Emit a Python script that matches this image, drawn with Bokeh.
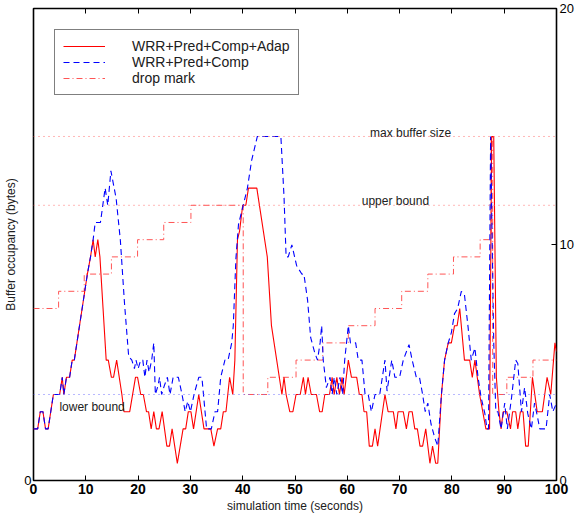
from bokeh.plotting import figure
from bokeh.models import (Range1d, LinearAxis, FixedTicker, Span, Legend, LegendItem,
                          ColumnDataSource, CustomLabelingPolicy)
from bokeh.core.properties import value
from bokeh.embed import file_html
from bokeh.resources import INLINE

FONT = "Liberation Sans"

# ---- data ----
adap_t = [0, 0.8, 1.3, 1.8, 2.3, 2.8, 3.8, 5.0, 5.5, 5.8, 6.3, 6.9, 7.4, 7.8, 8.3, 8.8, 9.3, 9.8,
          10.3, 10.9, 11.4, 11.8, 12.3, 12.7, 13.3, 13.9, 14.3, 14.9, 15.3, 15.9, 16.9, 17.3, 18.4,
          19.5, 19.9, 20.5, 21.0, 21.6, 22.0, 22.5, 23.0, 23.5, 24.0, 24.6, 25.5, 26.0, 26.5, 27.5,
          28.6, 29.1, 29.6, 30.1, 30.6, 31.6, 32.6, 33.9, 34.5, 35.2, 35.8, 36.3, 36.8, 37.5, 38.1,
          38.5, 39.0, 39.4, 40.0, 40.6, 41.1, 42.7, 44.7, 45.5, 47.5, 47.9, 48.3, 49.0, 49.6, 50.2,
          51.0, 51.6, 52.0, 52.5, 53.1, 54.1, 54.7, 55.2, 55.7, 56.6, 57.1, 57.5, 58.0, 58.5, 59.0,
          59.4, 60.2, 60.8, 61.8, 62.3, 62.8, 63.2, 63.7, 64.2, 64.8, 65.3, 65.8, 67.2, 67.8, 68.8,
          69.3, 69.7, 70.7, 71.3, 71.8, 72.4, 72.9, 73.4, 73.9, 74.4, 75.0, 75.8, 76.3, 76.9, 77.3,
          78.0, 78.6, 79.3, 79.9, 80.5, 81.0, 81.5, 82.4, 83.4, 83.9, 84.4, 85.3, 86.5, 87.2, 87.6,
          88.0, 88.5, 89.0, 89.4, 89.8, 90.5, 91.2, 91.6, 92.2, 92.6, 93.1, 93.6, 94.1, 94.6, 95.4,
          96.3, 97.3, 98.2, 98.9, 99.7, 100]
adap_v = [3, 3, 4, 4, 3, 3, 5, 5, 6, 5, 6, 6, 7, 7, 8, 9, 10, 11,
          12, 13, 14, 13, 14, 13, 10, 7, 7, 6, 6, 7, 5, 4, 4,
          6, 6, 5, 5, 4, 4, 3, 4, 3, 3, 4, 2, 2, 3, 1,
          3, 3, 4, 4, 3, 5, 3, 3, 2, 3, 3, 4, 4, 6, 5,
          7, 14, 14.5, 16, 16, 17, 17, 13, 9, 5, 6, 5, 4, 4, 5,
          5, 6, 5, 6, 5, 5, 4, 4, 5, 5, 6, 5, 6, 5, 6,
          5, 7, 6, 6, 5, 5, 4, 4, 2, 2, 3, 2, 5, 4, 4,
          3, 4, 4, 3, 4, 4, 3, 3, 2, 2, 3, 1, 2, 1, 1,
          5, 7, 8, 8, 9, 9, 10, 7, 7, 6, 7, 5, 3, 3, 20,
          20, 6, 4, 3, 4, 4, 3, 4, 4, 3, 4, 4, 2, 2, 6,
          4, 4, 6, 5, 8, 7.5]

comp_t = [0, 0.8, 1.3, 1.8, 2.3, 2.8, 3.8, 5.0, 5.5, 5.8, 6.3, 6.9, 7.4, 7.8, 8.3, 8.8, 9.3, 9.8,
          10.3, 10.9, 11.4, 11.8, 12.8, 13.7, 14.2, 14.8, 15.8, 16.6, 17.4, 18.2, 18.8, 19.3, 19.6,
          20.0, 20.5, 20.9, 21.3, 21.7, 22.1, 22.6, 23.0, 23.3, 23.8, 24.1, 24.5, 25.0, 25.6, 26.1,
          26.7, 27.7, 28.4, 29.0, 29.5, 30.0, 30.7, 31.6, 32.2, 32.8, 33.1, 34.0, 34.7, 35.2, 35.8,
          36.6, 37.2, 37.9, 38.2, 38.7, 39.2, 40.1, 40.9, 41.7, 42.8, 47.3, 47.9, 48.3, 48.7, 49.4,
          50.3, 51.3, 51.7, 52.4, 53.0, 53.8, 54.3, 54.8, 55.1, 55.4, 56.0, 56.7, 57.1, 57.5, 58.0,
          58.6, 59.1, 59.5, 60.2, 60.6, 61.6, 62.1, 62.8, 63.4, 64.0, 64.6, 65.3, 66.2, 66.7, 67.2,
          67.6, 68.5, 69.1, 70.0, 70.7, 71.8, 72.4, 73.2, 73.8, 74.4, 74.9, 75.4, 76.0, 76.7, 77.3,
          78.0, 78.6, 79.3, 79.9, 80.5, 81.1, 81.8, 82.4, 83.1, 83.7, 84.4, 85.0, 85.6, 86.3, 86.7,
          87.0, 87.4, 88.0, 88.4, 88.8, 89.4, 90.1, 90.6, 91.4, 92.2, 92.6, 93.3, 93.9, 94.5, 95.2,
          95.8, 96.3, 96.8, 98.0, 98.7, 99.3, 100]
comp_v = [3, 3, 4, 4, 3, 3, 5, 5, 6, 5, 6, 6, 7, 7, 8, 9, 10, 11,
          12, 13, 14, 15, 15, 17, 16, 18, 16.4, 14, 10.3, 7.2, 7, 6.5, 7,
          6.5, 7, 7, 6, 7, 6.3, 7, 8, 5, 5.5, 6, 5, 5.5, 6, 5,
          6, 6, 5, 4, 4.6, 4, 5, 6, 6, 4, 3, 3, 4, 4, 6,
          7, 7, 8, 9, 12.9, 14.9, 16, 17, 18.6, 20, 20, 16.5, 13, 13, 13.7,
          12.5, 12, 12, 10.5, 8.3, 7.4, 7, 8, 9, 7, 5.4, 6, 5, 6, 5,
          6, 5, 7, 9, 8, 8, 7, 7, 5, 5, 4, 5, 5, 6, 7,
          5.2, 7, 6, 6, 7, 7.9, 7, 6, 6, 5, 4, 4.5, 3.3, 2.5, 2,
          5, 7, 8, 8.6, 9.7, 10, 11, 10.8, 8.9, 7, 7.7, 6, 4.8, 3.9, 3,
          3, 20, 8, 4, 4, 3, 4.5, 3, 4.8, 7, 6.8, 4, 5.4, 3.9, 3,
          4.5, 3.8, 3, 3, 5, 4, 4.5]

drop_t = [0, 4.8, 9.7, 14.9, 19.9, 24.9, 30.1, 40.1, 44.8, 50.2, 55.3, 60.2, 65.3, 70.4, 75.4,
          80.3, 85.4, 87.5, 87.8, 90.5, 95.5, 100]
drop_v = [10, 11, 12, 13, 14, 15, 16, 5, 6, 7, 8, 9, 10, 11, 12,
          13, 14, 20, 5, 6, 7, 7]

max_buffer = 20
upper_bound = 16
lower_bound = 5

label_text = ["max buffer size", "upper bound", "lower bound"]
label_x = [72.1, 69.2, 11.2]
label_y = [20.2, 16.25, 4.25]

x_ticks = [0, 10, 20, 30, 40, 50, 60, 70, 80, 90, 100]
right_ticks = [0, 10, 20]
left_ticks = [0]

series_names = ["WRR+Pred+Comp+Adap", "WRR+Pred+Comp", "drop mark"]

# ---- figure ----
p = figure(width=576, height=515, x_range=Range1d(0, 100), y_range=Range1d(0, 27.44),
           output_backend="svg", toolbar_location=None,
           min_border_left=33, min_border_right=19, min_border_top=8, min_border_bottom=35)
p.xgrid.visible = False
p.ygrid.visible = False
p.outline_line_color = "black"
p.outline_line_width = 1.6
p.outline_line_alpha = 1.0

def tidy(ax):
    ax.minor_tick_line_color = None
    ax.minor_tick_in = 0
    ax.minor_tick_out = 0
    ax.major_tick_out = 0
    ax.axis_line_color = None

xa = p.xaxis[0]
tidy(xa)
xa.ticker = FixedTicker(ticks=x_ticks, minor_ticks=[])
xa.major_tick_in = 5
xa.major_label_text_font = FONT
xa.major_label_text_font_size = "14px"
xa.major_label_text_font_style = "bold"
xa.major_label_text_color = "black"
xa.major_label_standoff = 3
xa.axis_label = "simulation time (seconds)"
xa.axis_label_text_font = FONT
xa.axis_label_text_font_size = "12px"
xa.axis_label_text_font_style = "normal"
xa.axis_label_text_color = "#202020"
xa.axis_label_standoff = 2

ya = p.yaxis[0]
tidy(ya)
ya.ticker = FixedTicker(ticks=left_ticks, minor_ticks=[])
ya.major_tick_in = 0
ya.major_label_text_font = FONT
ya.major_label_text_font_size = "13px"
ya.major_label_text_color = "black"
ya.major_label_standoff = 2
ya.axis_label = "Buffer occupancy (bytes)"
ya.axis_label_text_font = FONT
ya.axis_label_text_font_size = "12px"
ya.axis_label_text_font_style = "normal"
ya.axis_label_text_color = "#202020"
ya.axis_label_standoff = 3

p.extra_y_ranges = {"right": Range1d(0, 20)}
ra = LinearAxis(y_range_name="right", ticker=FixedTicker(ticks=right_ticks, minor_ticks=[]),
                major_tick_in=5, major_label_text_font=FONT,
                major_label_text_font_size="13px", major_label_text_color="black",
                major_label_standoff=3)
tidy(ra)
p.add_layout(ra, "right")

ta = LinearAxis(ticker=FixedTicker(ticks=x_ticks, minor_ticks=[]), major_tick_in=5,
                major_label_text_font_size="1px", major_label_standoff=0,
                major_label_policy=CustomLabelingPolicy(code="return null"))
tidy(ta)
p.add_layout(ta, "above")

# reference lines
for lvl, col in [(max_buffer, "#ff7070"), (upper_bound, "#ff7070"), (lower_bound, "#6f6fff")]:
    p.add_layout(Span(location=lvl, dimension="width", line_color=col,
                      line_dash="1 4", line_width=1))

r_drop = p.step(drop_t, drop_v, mode="after", line_color="#ff5555", line_width=1,
                line_dash="6 3 1 3")
r_adap = p.line(adap_t, adap_v, line_color="#ff0000", line_width=1.1)
r_comp = p.line(comp_t, comp_v, line_color="#0000ff", line_width=1.1, line_dash="6 4")

src = ColumnDataSource(dict(x=label_x, y=label_y, t=label_text))
p.text(x="x", y="y", text="t", source=src, text_font=value(FONT), text_font_size="12px",
       text_align="center", text_baseline="middle", text_color="#202020")

legend = Legend(items=[LegendItem(label=series_names[0], renderers=[r_adap]),
                       LegendItem(label=series_names[1], renderers=[r_comp]),
                       LegendItem(label=series_names[2], renderers=[r_drop])],
                location="top_left", margin=21, padding=8, spacing=0,
                glyph_width=42, glyph_height=16, label_height=16, label_standoff=27,
                label_text_font=FONT, label_text_font_size="14px", label_text_color="#202020",
                border_line_color="black", border_line_width=1, background_fill_alpha=1.0)
p.add_layout(legend)

open("out.html", "w").write(file_html(p, INLINE))
